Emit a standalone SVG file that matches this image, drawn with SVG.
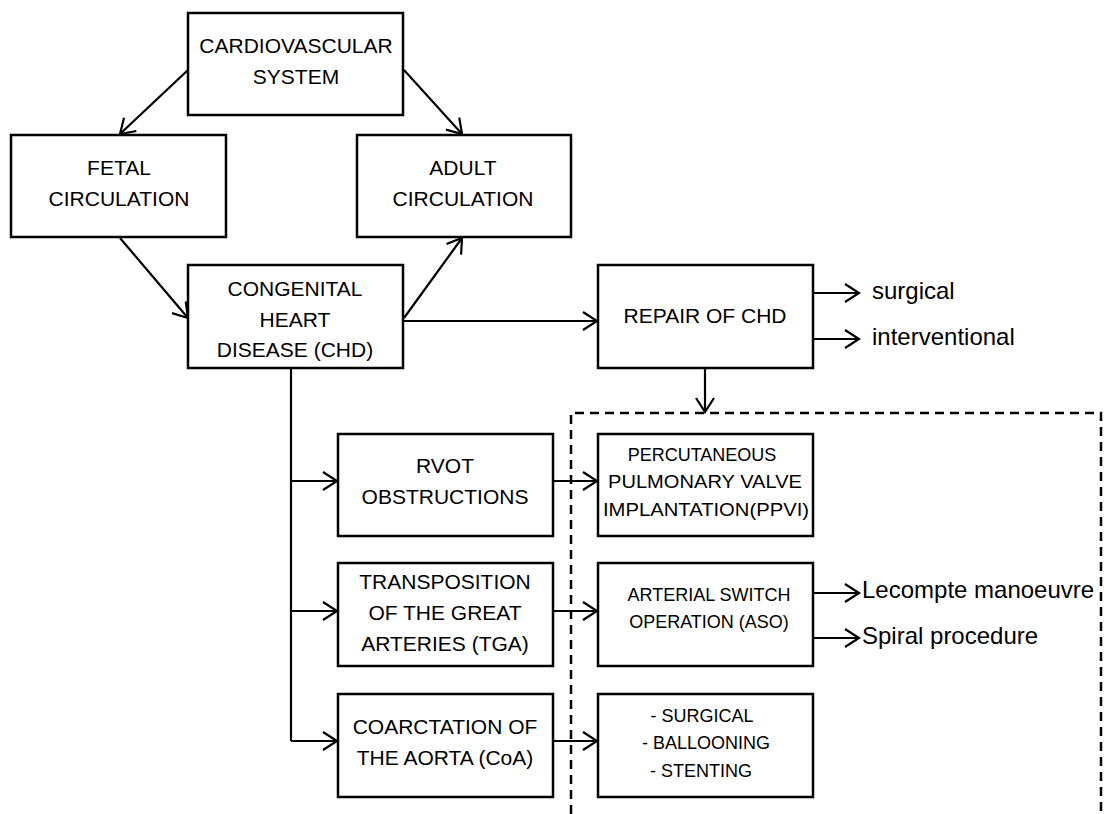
<svg xmlns="http://www.w3.org/2000/svg" width="1106" height="814" viewBox="0 0 1106 814">
<defs>
<marker id="arr" markerUnits="userSpaceOnUse" markerWidth="30" markerHeight="30" refX="15" refY="15" orient="auto" viewBox="0 0 30 30">
<path d="M1,6 L15,15 L1,24" fill="none" stroke="#000" stroke-width="2.2"/>
</marker>
</defs>
<style>
.box{fill:#fff;stroke:#000;stroke-width:2.5}
.t{font-family:"Liberation Sans",Arial,sans-serif;font-size:21px;text-anchor:middle;fill:#000}
.s{font-family:"Liberation Sans",Arial,sans-serif;font-size:18px;text-anchor:middle;fill:#000}
.l{font-family:"Liberation Sans",Arial,sans-serif;font-size:24px;fill:#000}
.c{fill:none;stroke:#000;stroke-width:2.2}
.a{fill:none;stroke:#000;stroke-width:2.2;marker-end:url(#arr)}
.d{fill:none;stroke:#000;stroke-width:2.5;stroke-dasharray:9,6}
</style>
<rect width="1106" height="814" fill="#fff"/>
<g id="connectors">
<path class="d" d="M571,814 V413 H1101 V814"/>
<line class="a" x1="188" y1="70" x2="120" y2="134"/>
<line class="a" x1="404" y1="70" x2="462" y2="134"/>
<line class="a" x1="120" y1="238" x2="188" y2="318"/>
<line class="a" x1="404" y1="318" x2="462" y2="238"/>
<line class="a" x1="404" y1="321" x2="597" y2="321"/>
<line class="a" x1="813" y1="293" x2="859" y2="293"/>
<line class="a" x1="813" y1="339" x2="859" y2="339"/>
<line class="a" x1="705" y1="368" x2="705" y2="412"/>
<line class="c" x1="291" y1="368" x2="291" y2="741"/>
<line class="a" x1="291" y1="481" x2="337" y2="481"/>
<line class="a" x1="291" y1="611" x2="337" y2="611"/>
<line class="a" x1="291" y1="741" x2="337" y2="741"/>
<line class="a" x1="553" y1="481" x2="597" y2="481"/>
<line class="a" x1="553" y1="611" x2="597" y2="611"/>
<line class="a" x1="553" y1="741" x2="597" y2="741"/>
<line class="a" x1="813" y1="593" x2="859" y2="593"/>
<line class="a" x1="813" y1="638" x2="859" y2="638"/>
</g>
<g id="cardio"><rect class="box" x="188" y="13" width="215" height="102"/><text class="t" x="296" y="53">CARDIOVASCULAR</text><text class="t" x="296" y="84">SYSTEM</text></g>
<g id="fetal"><rect class="box" x="11" y="135" width="215" height="102"/><text class="t" x="119" y="175">FETAL</text><text class="t" x="119" y="206">CIRCULATION</text></g>
<g id="adult"><rect class="box" x="357" y="135" width="214" height="102"/><text class="t" x="463" y="175">ADULT</text><text class="t" x="463" y="206">CIRCULATION</text></g>
<g id="chd"><rect class="box" x="188" y="265" width="215" height="103"/><text class="t" x="295" y="296">CONGENITAL</text><text class="t" x="295" y="327">HEART</text><text class="t" x="295" y="357">DISEASE (CHD)</text></g>
<g id="repair"><rect class="box" x="598" y="265" width="215" height="103"/><text class="t" x="705" y="323">REPAIR OF CHD</text></g>
<g id="surgical"><text class="l" x="872" y="299">surgical</text></g>
<g id="interventional"><text class="l" x="872" y="345">interventional</text></g>
<g id="rvot"><rect class="box" x="338" y="434" width="215" height="102"/><text class="t" x="445" y="473">RVOT</text><text class="t" x="445" y="504">OBSTRUCTIONS</text></g>
<g id="tga"><rect class="box" x="338" y="563" width="215" height="103"/><text class="t" x="445" y="589">TRANSPOSITION</text><text class="t" x="445" y="620">OF THE GREAT</text><text class="t" x="445" y="651">ARTERIES (TGA)</text></g>
<g id="coa"><rect class="box" x="338" y="694" width="215" height="103"/><text class="t" x="445" y="734">COARCTATION OF</text><text class="t" x="445" y="765">THE AORTA (CoA)</text></g>
<g id="ppvi"><rect class="box" x="598" y="434" width="215" height="102"/><text class="s" x="702" y="461">PERCUTANEOUS</text><text class="s" x="705" y="488" textLength="194" lengthAdjust="spacingAndGlyphs">PULMONARY VALVE</text><text class="s" x="706" y="516" textLength="206" lengthAdjust="spacingAndGlyphs">IMPLANTATION(PPVI)</text></g>
<g id="aso"><rect class="box" x="598" y="563" width="215" height="103"/><text class="s" x="709" y="601">ARTERIAL SWITCH</text><text class="s" x="709" y="628">OPERATION (ASO)</text></g>
<g id="lecompte"><text class="l" x="862" y="598">Lecompte manoeuvre</text></g>
<g id="spiral"><text class="l" x="862" y="644">Spiral procedure</text></g>
<g id="repairs"><rect class="box" x="598" y="694" width="215" height="103"/><text class="s" x="702" y="722">- SURGICAL</text><text class="s" x="706" y="749">- BALLOONING</text><text class="s" x="701" y="777">- STENTING</text></g>
</svg>
